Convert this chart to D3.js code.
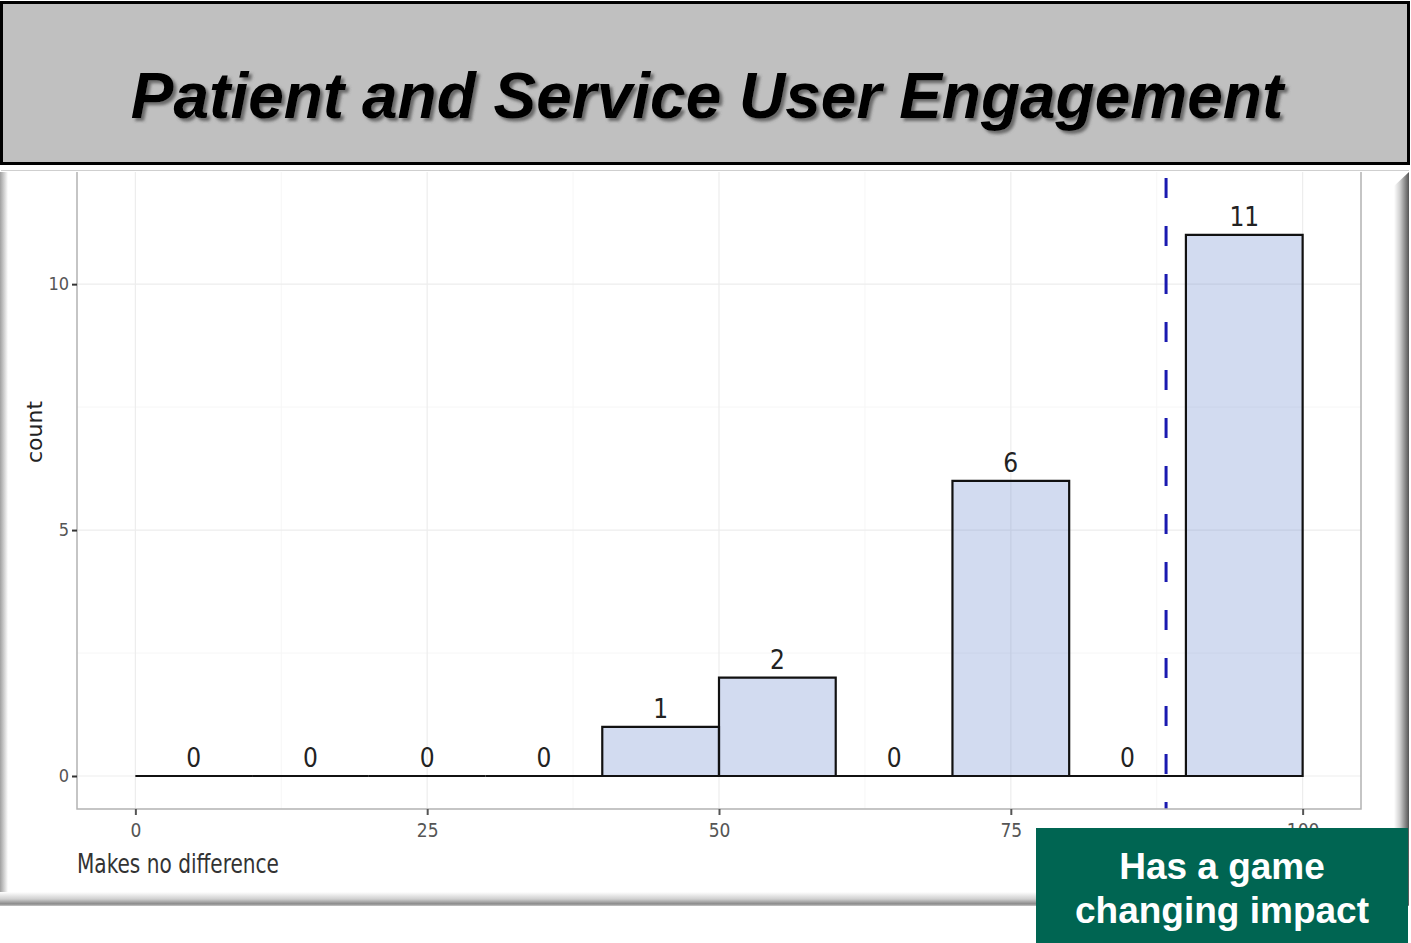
<!DOCTYPE html>
<html><head><meta charset="utf-8">
<script src="https://cdn.jsdelivr.net/npm/d3@7"></script>
<style>html,body{margin:0;padding:0;background:#fff;overflow:hidden}</style>
</head><body>
<svg id="c" width="1411" height="943"></svg>
<script>
// ---- data ----
const binStarts = [0,10,20,30,40,50,60,70,80,90];
const binWidth = 10;
const counts = [0,0,0,0,1,2,0,6,0,11];
const xTicks = [0,25,50,75,100];
const yTicks = [0,5,10];
const meanLine = 88.3;
const titleText = "Patient and Service User Engagement";
const leftNote = "Makes no difference";
const rightNote = ["Has a game","changing impact"];

const svg = d3.select("#c");
const defs = svg.append("defs");
function grad(id,x2,y2,stops){
  const g=defs.append("linearGradient").attr("id",id).attr("x1",0).attr("y1",0).attr("x2",x2).attr("y2",y2);
  stops.forEach(s=>g.append("stop").attr("offset",s[0]).attr("stop-color",s[1]));
}
grad("gb",0,1,[[0,"#ffffff"],[0.5,"#d0d0d0"],[0.85,"#8a8a8a"],[1,"#c8c8c8"]]);
grad("gr",1,0,[[0,"#ffffff"],[0.4,"#cfcfcf"],[1,"#555555"]]);
grad("gl",1,0,[[0,"#a0a0a0"],[1,"#ffffff"]]);
const sh=defs.append("filter").attr("id","ts").attr("x","-5%").attr("y","-20%").attr("width","110%").attr("height","140%");
sh.append("feDropShadow").attr("dx",3).attr("dy",3).attr("stdDeviation",1.5).attr("flood-color","#555").attr("flood-opacity",0.8);

// ---- title box ----
svg.append("rect").attr("x",1.5).attr("y",2.5).attr("width",1407).attr("height",161)
  .attr("fill","#c0c0c0").attr("stroke","#000").attr("stroke-width",3);
svg.append("text").attr("x",707).attr("y",118).attr("text-anchor","middle")
  .attr("font-family","Liberation Sans, Arial, sans-serif").attr("font-weight","bold").attr("font-style","italic")
  .attr("font-size",64).attr("fill","#000").attr("filter","url(#ts)").text(titleText);

// ---- chart frame (bevel) ----
svg.append("rect").attr("x",1).attr("y",170).attr("width",1408).attr("height",736).attr("fill","#fff");
svg.append("line").attr("x1",1).attr("x2",1409).attr("y1",170.5).attr("y2",170.5).attr("stroke","#cfcfcf");
svg.append("rect").attr("x",0).attr("y",172).attr("width",8).attr("height",733).attr("fill","url(#gl)");
svg.append("rect").attr("x",0).attr("y",892).attr("width",1409).attr("height",14).attr("fill","url(#gb)");
svg.append("path").attr("d","M1394,186 L1409,172 L1409,906 L1394,892 Z").attr("fill","url(#gr)");

// ---- scales ----
const x = d3.scaleLinear().domain([-5,105]).range([77,1361]);
const y = d3.scaleLinear().domain([-0.671,12.28]).range([809,172]);

// grid
const g = svg.append("g");
[2.5,7.5].forEach(v=>g.append("line").attr("x1",77).attr("x2",1361).attr("y1",y(v)).attr("y2",y(v)).attr("stroke","#f6f6f6").attr("stroke-width",1));
[12.5,37.5,62.5,87.5].forEach(v=>g.append("line").attr("x1",x(v)).attr("x2",x(v)).attr("y1",172).attr("y2",809).attr("stroke","#f6f6f6").attr("stroke-width",1));
yTicks.forEach(v=>g.append("line").attr("x1",77).attr("x2",1361).attr("y1",y(v)).attr("y2",y(v)).attr("stroke","#ededed").attr("stroke-width",1.2));
xTicks.forEach(v=>g.append("line").attr("x1",x(v)).attr("x2",x(v)).attr("y1",172).attr("y2",809).attr("stroke","#ededed").attr("stroke-width",1.2));

// bars
const bars = binStarts.map((s,i)=>({x0:s,x1:s+binWidth,c:counts[i]}));
g.selectAll("path.bar").data(bars).join("path").attr("class","bar")
  .attr("d",d=>`M${x(d.x0)},${y(0)}L${x(d.x0)},${y(d.c)}L${x(d.x1)},${y(d.c)}L${x(d.x1)},${y(0)}Z`)
  .attr("fill","rgba(100,132,205,0.29)").attr("stroke","#111").attr("stroke-width",2.2).attr("stroke-linejoin","miter");

// count labels
g.selectAll("text.cnt").data(bars).join("text").attr("class","cnt")
  .attr("x",d=>x((d.x0+d.x1)/2)).attr("y",d=>y(d.c)-9).attr("text-anchor","middle")
  .attr("font-family","DejaVu Sans Condensed, DejaVu Sans, sans-serif").attr("font-size",26)
  .attr("fill","#222").text(d=>d.c);

// mean line
g.append("line").attr("x1",x(meanLine)).attr("x2",x(meanLine)).attr("y1",178).attr("y2",809)
  .attr("stroke","#1a1ab0").attr("stroke-width",3).attr("stroke-dasharray","20,28");

// panel border
g.append("path").attr("d",`M77,172V809H1361V172`).attr("fill","none").attr("stroke","#b3b3b3").attr("stroke-width",1.5);

// axes
const yAxis = d3.axisLeft(y).tickValues(yTicks).tickSize(5).tickPadding(3);
const ya = svg.append("g").attr("transform","translate(77,0)").call(yAxis);
ya.select(".domain").remove();
ya.selectAll("line").attr("stroke","#333").attr("stroke-width",2);
ya.selectAll("text").attr("font-family","DejaVu Sans Condensed, DejaVu Sans, sans-serif").attr("font-size",18).attr("fill","#555");

const xAxis = d3.axisBottom(x).tickValues(xTicks).tickSize(6).tickPadding(9);
const xa = svg.append("g").attr("transform","translate(0,809)").call(xAxis);
xa.select(".domain").remove();
xa.selectAll("line").attr("stroke","#555").attr("stroke-width",2);
xa.selectAll("text").attr("font-family","DejaVu Sans Condensed, DejaVu Sans, sans-serif").attr("font-size",19).attr("fill","#555");

// y title
svg.append("text").attr("transform","translate(42,432) rotate(-90)").attr("text-anchor","middle")
  .attr("font-family","DejaVu Sans, sans-serif").attr("font-size",22).attr("fill","#222").text("count");

// left note
svg.append("text").attr("x",77).attr("y",873)
  .attr("font-family","DejaVu Sans Condensed, DejaVu Sans, sans-serif").attr("font-size",27)
  .attr("textLength",202).attr("lengthAdjust","spacingAndGlyphs").attr("fill","#333").text(leftNote);

// green box
svg.append("rect").attr("x",1036).attr("y",828).attr("width",372).attr("height",115).attr("fill","#006552");
svg.selectAll("text.rn").data(rightNote).join("text").attr("class","rn")
  .attr("x",1222).attr("y",(d,i)=>879+i*44).attr("text-anchor","middle")
  .attr("font-family","Liberation Sans, Arial, sans-serif").attr("font-weight","bold").attr("font-size",37)
  .attr("fill","#fff").text(d=>d);
</script>
</body></html>
